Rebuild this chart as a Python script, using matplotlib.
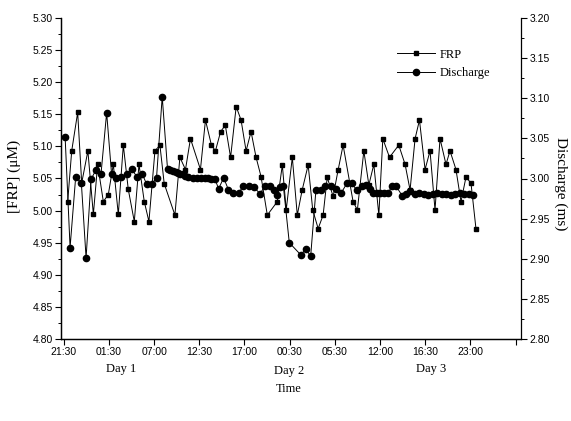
import matplotlib
matplotlib.use("Agg")
import matplotlib.pyplot as plt
from matplotlib.ticker import MultipleLocator

# sample positions (ticks sit at 0, 10, ... 100) and values
frp_pos = [0.88, 1.77, 3.09, 3.98, 5.35, 6.56, 7.51, 8.77, 9.87, 10.98, 12.08, 13.19,
           14.29, 15.62, 16.66, 17.83, 18.86, 20.19, 21.29, 22.24, 24.61, 25.71, 26.95,
           28.05, 30.26, 31.37, 32.69, 33.58, 34.72, 35.76, 36.93, 38.17, 39.25, 40.36,
           41.46, 42.57, 43.67, 45.06, 47.27, 48.38, 49.24, 50.59, 51.69, 52.77, 54.10,
           55.11, 56.31, 57.41, 58.32, 59.62, 60.72, 61.83, 64.04, 64.99, 66.42, 67.53,
           68.63, 69.74, 70.62, 72.10, 74.15, 75.55, 76.65, 77.76, 78.73, 79.97, 81.07,
           82.17, 83.28, 84.60, 85.49, 86.81, 87.92, 89.02, 90.13, 91.23]
frp = [5.014, 5.093, 5.153, 5.043, 5.093, 4.994, 5.072, 5.014, 5.025, 5.072, 4.994, 5.102,
       5.033, 4.983, 5.072, 5.014, 4.983, 5.093, 5.102, 5.042, 4.993, 5.083, 5.064,
       5.112, 5.064, 5.141, 5.102, 5.093, 5.123, 5.133, 5.083, 5.162, 5.141, 5.093,
       5.123, 5.083, 5.053, 4.993, 5.014, 5.071, 5.001, 5.083, 4.993, 5.032, 5.071,
       5.001, 4.972, 4.993, 5.052, 5.022, 5.063, 5.102, 5.014, 5.001, 5.093, 5.040,
       5.072, 4.993, 5.112, 5.083, 5.102, 5.072, 5.032, 5.112, 5.141, 5.064, 5.093,
       5.001, 5.112, 5.072, 5.093, 5.064, 5.014, 5.052, 5.043, 4.972]

dis_pos = [0.31, 1.41, 2.65, 3.91, 4.95, 6.05, 7.07, 8.26, 9.50, 10.60, 11.49, 12.68,
           13.92, 15.02, 16.21, 17.38, 18.33, 19.44, 20.54, 21.80, 22.97, 23.57, 24.17,
           24.74, 25.29, 25.84, 26.33, 26.82, 27.55, 28.65, 29.53, 30.42, 31.23, 31.96,
           32.69, 33.44, 34.28, 35.39, 36.45, 37.55, 38.75, 39.76, 41.02, 42.13, 43.45,
           44.56, 45.66, 46.54, 47.27, 47.87, 48.60, 49.92, 52.44, 53.61, 54.65, 55.82,
           56.86, 57.81, 59.07, 60.17, 61.41, 62.67, 63.71, 64.81, 65.92, 66.87, 67.75,
           68.52, 69.30, 70.07, 70.84, 71.73, 72.76, 73.49, 74.97, 75.86, 76.70, 77.69,
           78.68, 79.68, 80.67, 81.67, 82.66, 83.65, 84.65, 85.64, 86.64, 87.63, 88.62,
           89.62, 90.61]
discharge = [3.052, 2.914, 3.002, 2.994, 2.901, 2.999, 3.010, 3.006, 3.082, 3.005, 3.001,
             3.002, 3.005, 3.012, 3.002, 3.006, 2.993, 2.993, 3.001, 3.102, 3.012, 3.010,
             3.009, 3.008, 3.007, 3.006, 3.006, 3.003, 3.002, 3.001, 3.001, 3.001, 3.001,
             3.001, 3.000, 3.000, 2.987, 3.001, 2.986, 2.982, 2.982, 2.991, 2.991, 2.989,
             2.981, 2.991, 2.991, 2.986, 2.980, 2.990, 2.991, 2.920, 2.905, 2.912, 2.903,
             2.986, 2.986, 2.991, 2.991, 2.987, 2.982, 2.994, 2.994, 2.986, 2.991, 2.992,
             2.987, 2.982, 2.982, 2.982, 2.982, 2.982, 2.991, 2.991, 2.978, 2.981, 2.984,
             2.981, 2.982, 2.981, 2.980, 2.981, 2.982, 2.981, 2.981, 2.980, 2.981, 2.982,
             2.981, 2.981, 2.980]

tick_pos = [0, 10, 20, 30, 40, 50, 60, 70, 80, 90, 100]
tick_labels = ["21:30", "01:30", "07:00", "12:30", "17:00", "00:30",
               "05:30", "12:00", "16:30", "23:00", ""]
day_labels = ["Day 1", "Day 2", "Day 3"]

serif = ["Liberation Serif", "DejaVu Serif"]
sans = ["Liberation Sans Narrow", "Liberation Sans", "DejaVu Sans"]

W, H = 571, 421
fig = plt.figure(figsize=(W / 100, H / 100), dpi=100)
ax = fig.add_axes([61 / W, 1 - 339 / H, 460 / W, 321 / H])
ax2 = ax.twinx()

l1, = ax.plot(frp_pos, frp, color="black", lw=0.7, marker="s", ms=3.5,
              label="FRP")
l2, = ax2.plot(dis_pos, discharge, color="black", lw=0.7, marker="o", ms=4.5,
               label="Discharge")

ax.set_xlim(-0.6, 101.2)
ax.set_ylim(4.80, 5.30)
ax2.set_ylim(2.80, 3.20)

ax.set_xticks(tick_pos)
ax.set_xticklabels(tick_labels)
ax.yaxis.set_major_locator(MultipleLocator(0.05))
ax.yaxis.set_minor_locator(MultipleLocator(0.025))
ax2.yaxis.set_major_locator(MultipleLocator(0.05))
ax2.yaxis.set_minor_locator(MultipleLocator(0.025))
ax.yaxis.set_major_formatter(plt.FormatStrFormatter("%.2f"))
ax2.yaxis.set_major_formatter(plt.FormatStrFormatter("%.2f"))

for a in (ax, ax2):
    a.spines["top"].set_visible(False)
    for s in a.spines.values():
        s.set_linewidth(0.9)
    a.tick_params(which="major", direction="out", length=4, width=0.8,
                  labelsize=7.5, pad=2)
    a.tick_params(which="minor", direction="out", length=2.5, width=0.7)
    for lab in a.get_xticklabels() + a.get_yticklabels():
        lab.set_family(sans)
ax.spines["right"].set_visible(False)
ax.tick_params(axis="x", which="minor", bottom=False)

fig.text(14 / W, 1 - 176 / H, "[FRP] (\u03bcM)", rotation=90, ha="center",
         va="center", family=serif, fontsize=11)
fig.text(561 / W, 1 - 184 / H, "Discharge (ms)", rotation=-90, ha="center",
         va="center", family=serif, fontsize=11)

for x, y, t in zip([121, 289, 431], [369, 371, 369], day_labels):
    fig.text(x / W, 1 - y / H, t, ha="center", va="center", family=serif,
             fontsize=9)
fig.text(289 / W, 1 - 389 / H, "Time", ha="center", va="center", family=serif,
         fontsize=9)

leg = ax.legend(handles=[l1, l2], loc="upper left", bbox_to_anchor=(0.72, 0.92),
                frameon=False, prop={"family": serif, "size": 9},
                handlelength=3.0, handletextpad=0.4, labelspacing=0.5,
                borderaxespad=0)

fig.savefig("out.png", dpi=100)
